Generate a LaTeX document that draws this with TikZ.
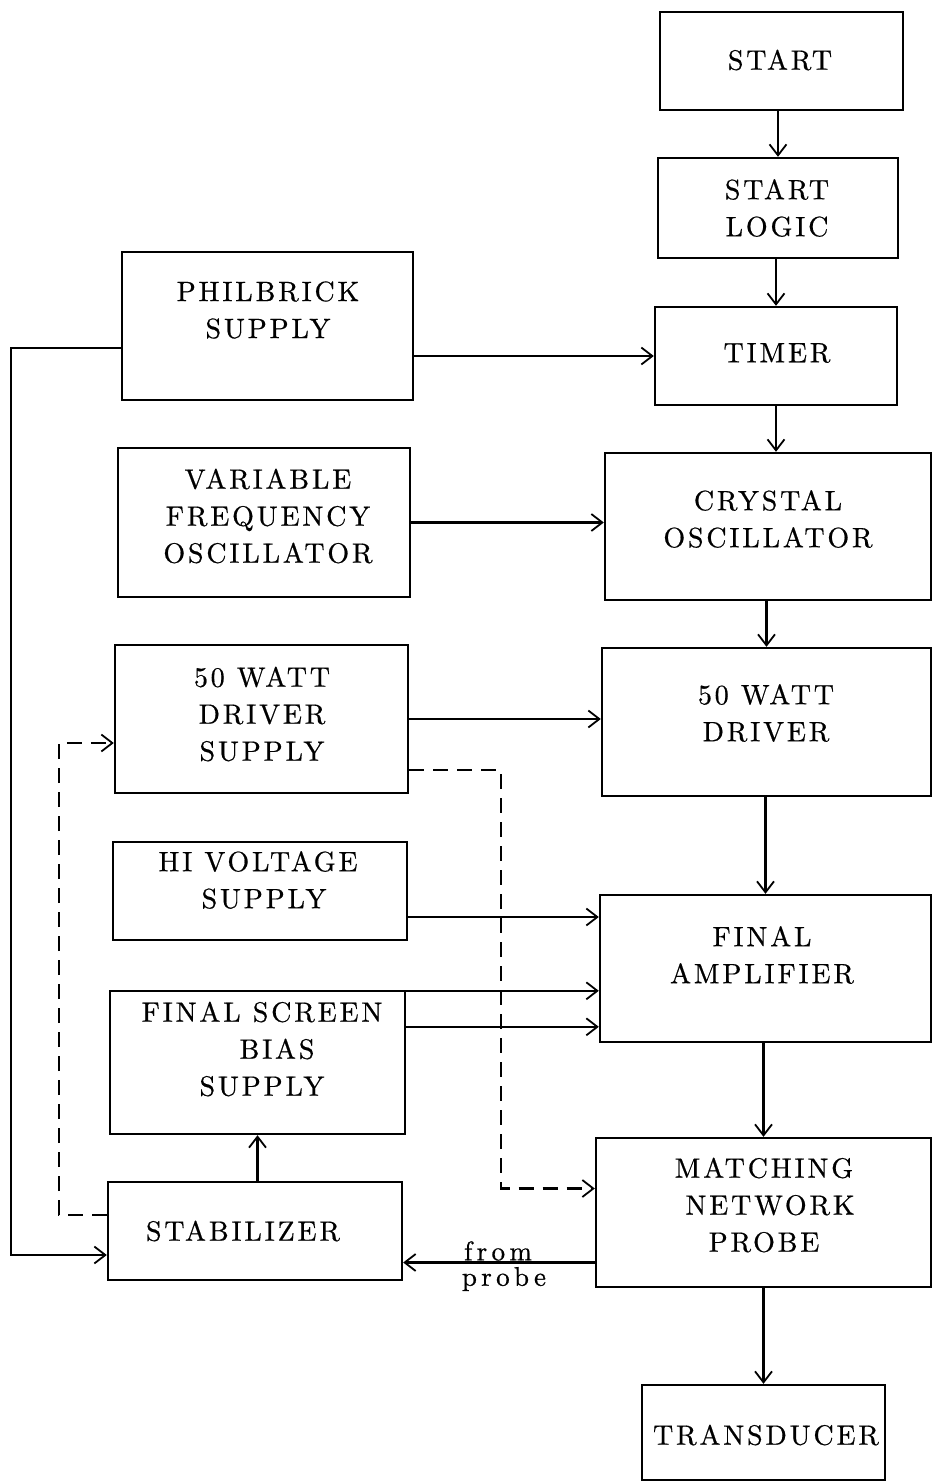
\documentclass[tikz,border=0pt]{standalone}
\usepackage{fontspec}
\newfontfamily\lblfont{lmroman10-regular.otf}[LetterSpace=10,FakeBold=0.6]
\newfontfamily\smlfont{lmroman10-regular.otf}[LetterSpace=16,FakeBold=0.6]
\usetikzlibrary{arrows.meta}
\begin{document}
\begin{tikzpicture}[x=1pt,y=-1pt,
 box/.style={draw,line width=2.4pt,rectangle,inner sep=0pt},
 lbl/.style={font=\lblfont\fontsize{28}{37}\selectfont,align=center,inner sep=0pt},
 sml/.style={font=\smlfont\fontsize{27}{28}\selectfont,inner sep=0pt},
 arr/.style={line width=2.2pt,-{Straight Barb[length=11pt,width=17pt,line width=1.8pt]}},
 dsh/.style={arr,dash pattern=on 15pt off 9pt}]
\useasboundingbox (0,0) rectangle (933,1483);
\fill[white] (0,0) rectangle (933,1483);
% right column
\node[box,minimum width=243pt,minimum height=98pt] (start) at (781.5,61) {};
\node[box,minimum width=240pt,minimum height=100pt] (slogic) at (778,208) {};
\node[box,minimum width=242pt,minimum height=98pt] (timer) at (776,356) {};
\node[box,minimum width=326pt,minimum height=147pt] (crystal) at (768,526.5) {};
\node[box,minimum width=329pt,minimum height=148pt] (driver) at (766.5,722) {};
\node[box,minimum width=331pt,minimum height=147pt] (famp) at (765.5,968.5) {};
\node[box,minimum width=335pt,minimum height=149pt] (match) at (763.5,1212.5) {};
\node[box,minimum width=243pt,minimum height=95pt] (trans) at (763.5,1432.5) {};
% left column
\node[box,minimum width=291pt,minimum height=148pt] (phil) at (267.5,326) {};
\node[box,minimum width=292pt,minimum height=149pt] (vfo) at (264,522.5) {};
\node[box,minimum width=293pt,minimum height=148pt] (dsup) at (261.5,719) {};
\node[box,minimum width=294pt,minimum height=98pt] (hv) at (260,891) {};
\node[box,minimum width=295pt,minimum height=143pt] (bias) at (257.5,1062.5) {};
\node[box,minimum width=294pt,minimum height=98pt] (stab) at (255,1231) {};
% labels
\node[lbl] at (780,60) {START};
\node[lbl] at (777,208) {START\\LOGIC};
\node[lbl] at (777,353) {TIMER};
\node[lbl] at (768,519) {CRYSTAL\\OSCILLATOR};
\node[lbl] at (766,713) {50 WATT\\DRIVER};
\node[lbl] at (762,955) {FINAL\\AMPLIFIER};
\node[lbl] at (764,1205) {MATCHING\\\ NETWORK\\PROBE};
\node[lbl] at (766,1435) {TRANSDUCER};
\node[lbl] at (268,310) {PHILBRICK\\SUPPLY};
\node[lbl] at (268,516) {VARIABLE\\FREQUENCY\\OSCILLATOR};
\node[lbl] at (262,714) {50 WATT\\DRIVER\\SUPPLY};
\node[lbl] at (258,880) {HI VOLTAGE\\\ SUPPLY};
\node[lbl] at (262,1049) {FINAL SCREEN\\\hspace*{30pt}BIAS\\SUPPLY};
\node[lbl] at (243,1231) {STABILIZER};
\node[sml] (from) at (498,1251) {from};
\node[sml] (probe) at (504,1279) {probe};
% main chain
\draw[arr] (slogic.north |- start.south) -- (slogic.north);
\draw[arr] (timer.north |- slogic.south) -- (timer.north);
\draw[arr] (timer.south) -- (timer.south |- crystal.north);
\draw[arr] (driver.north |- crystal.south) -- (driver.north);
\draw[arr] (famp.north |- driver.south) -- (famp.north);
\draw[arr] (match.north |- famp.south) -- (match.north);
\draw[arr] (trans.north |- match.south) -- (trans.north);
% horizontal feeds
\draw[arr] (timer.west -| phil.east) -- (timer.west);
\draw[arr] (vfo.east) -- (vfo.east -| crystal.west);
\draw[arr] (dsup.east) -- (dsup.east -| driver.west);
\draw[arr] ([yshift=-26pt]hv.east) coordinate (h1) -- (h1 -| famp.west);
\draw[arr] ([yshift=-1pt]bias.north east) coordinate (b1) -- (b1 -| famp.west);
\draw[arr] ([yshift=-37pt]bias.north east) coordinate (b2) -- (b2 -| famp.west);
\draw[arr] (stab.north -| bias.south) -- (bias.south);
\draw[arr] ([yshift=-50pt]match.west) coordinate (p1) -- (p1 -| stab.east);
% philbrick to stabilizer
\draw[arr] ([yshift=-22pt]phil.west) -- ++(-110,0) |- ([yshift=-24pt]stab.west);
% dashed paths
\draw[dsh] ([yshift=16pt]stab.west) -- ++(-48,0) |- ([yshift=-24pt]dsup.west);
\draw[dsh] ([yshift=-51pt]dsup.east) -- ++(92,0) |- ([yshift=24pt]match.west);
\end{tikzpicture}
\end{document}
